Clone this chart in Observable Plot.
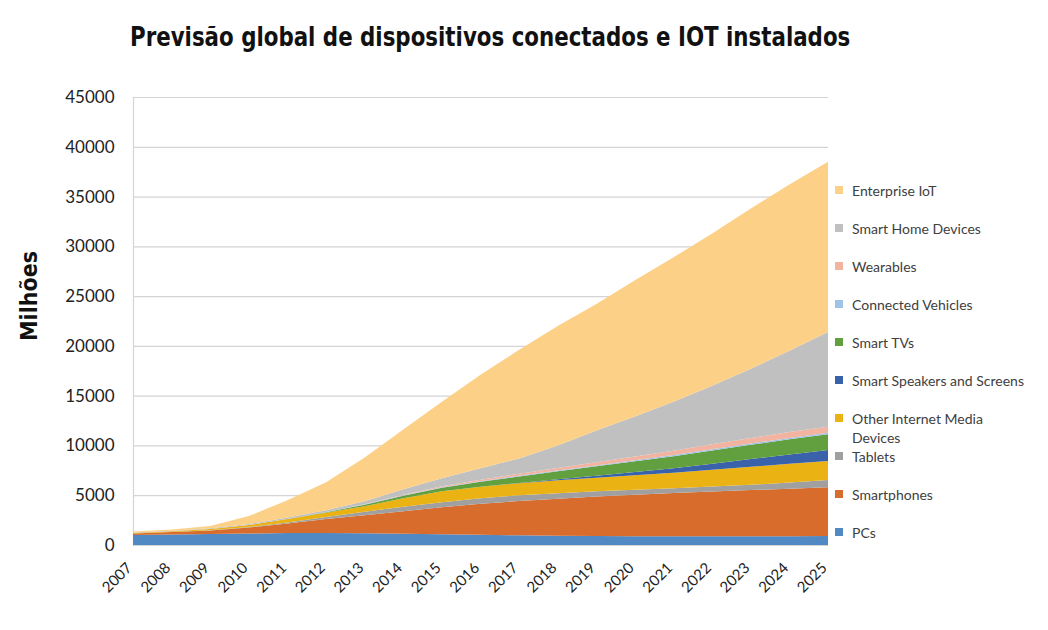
<!DOCTYPE html>
<html>
<head>
<meta charset="utf-8">
<script src="https://cdn.jsdelivr.net/npm/d3@7"></script>
<script src="https://cdn.jsdelivr.net/npm/@observablehq/plot@0.6"></script>
<style>
  body { margin: 0; background: #fff; width: 1048px; height: 630px; position: relative; overflow: hidden; font-family: Lato, "Open Sans", sans-serif; }
  #title { position: absolute; left: 130px; top: 21px; font-family: "Liberation Sans Narrow", "DejaVu Sans Condensed", Roboto, sans-serif; font-weight: bold; font-size: 26px; line-height: 32px; color: #111; white-space: nowrap; transform: scaleX(0.913); transform-origin: 0 0; z-index: 2; }
  #ylabel { position: absolute; left: 29px; top: 296px; transform: translate(-50%, -50%) rotate(-90deg); font-family: "Liberation Sans Narrow", "DejaVu Sans Condensed", Roboto, sans-serif; font-weight: bold; font-size: 23px; color: #111; white-space: nowrap; z-index: 2; }
  #chart { position: absolute; left: 0; top: 70px; z-index: 1; }
  #legend { position: absolute; left: 835px; top: 0; z-index: 2; }
  .item { position: absolute; left: 0; width: 210px; font-size: 14px; line-height: 19px; color: #404040; }
  .sw { position: absolute; left: 0; top: 5px; width: 8px; height: 8px; }
  .lbl { position: absolute; left: 17px; top: 0; white-space: pre; }
</style>
</head>
<body>
<div id="title">Previsão global de dispositivos conectados e IOT instalados</div>
<div id="chart"></div>
<div id="ylabel">Milhões</div>
<div id="legend"></div>
<script>
const years = [2007, 2008, 2009, 2010, 2011, 2012, 2013, 2014, 2015, 2016, 2017, 2018, 2019, 2020, 2021, 2022, 2023, 2024, 2025];
const yTicks = [0, 5000, 10000, 15000, 20000, 25000, 30000, 35000, 40000, 45000];

// series (millions), bottom to top
const pcs         = [1000, 1050, 1100, 1150, 1200, 1200, 1180, 1130, 1080, 1020, 970, 930, 900, 880, 880, 880, 880, 880, 900];
const smartphones = [150, 250, 350, 600, 950, 1400, 1820, 2270, 2720, 3130, 3450, 3720, 3980, 4180, 4340, 4490, 4640, 4770, 4890];
const tablets     = [0, 0, 20, 50, 100, 200, 350, 450, 500, 550, 580, 550, 520, 490, 480, 500, 530, 620, 730];
const otherMedia  = [50, 80, 130, 200, 350, 450, 550, 850, 1100, 1150, 1200, 1300, 1350, 1450, 1550, 1680, 1800, 1880, 1930];
const speakers    = [0, 0, 0, 0, 0, 0, 0, 0, 0, 0, 30, 100, 200, 330, 470, 620, 780, 950, 1100];
const smartTVs    = [0, 0, 0, 0, 0, 50, 150, 250, 350, 500, 650, 800, 950, 1080, 1200, 1330, 1430, 1520, 1570];
const vehicles    = [0, 0, 0, 5, 10, 20, 30, 40, 50, 60, 70, 80, 90, 100, 110, 120, 130, 140, 150];
const wearables   = [0, 0, 0, 0, 0, 0, 20, 50, 100, 150, 200, 260, 320, 380, 440, 500, 550, 590, 620];
const smartHome   = [50, 50, 80, 100, 140, 180, 300, 560, 800, 1140, 1550, 2260, 3190, 4010, 4930, 5880, 6960, 8150, 9510];
const enterprise  = [100, 120, 220, 800, 1750, 2800, 4400, 6000, 7700, 9400, 10900, 12000, 12700, 13700, 14500, 15300, 16100, 16700, 17100];

const seriesNames = ["PCs", "Smartphones", "Tablets", "Other Internet Media Devices", "Smart Speakers and Screens", "Smart TVs", "Connected Vehicles", "Wearables", "Smart Home Devices", "Enterprise IoT"];
const legendLabels = ["PCs", "Smartphones", "Tablets", "Other Internet Media\nDevices", "Smart Speakers and Screens", "Smart TVs", "Connected Vehicles", "Wearables", "Smart Home Devices", "Enterprise IoT"];
const seriesColors = ["#5089c4", "#d86c2c", "#a0a0a0", "#ebb213", "#3a62ab", "#62a03f", "#9dc3e6", "#f2b3a0", "#c0c0c0", "#fdd087"];
const seriesValues = [pcs, smartphones, tablets, otherMedia, speakers, smartTVs, vehicles, wearables, smartHome, enterprise];

const data = [];
seriesNames.forEach((name, i) => {
  years.forEach((yr, j) => data.push({ year: yr, series: name, value: seriesValues[i][j] }));
});

const chart = Plot.plot({
  width: 1048,
  height: 560,
  marginTop: 27,
  marginBottom: 85,
  marginLeft: 133,
  marginRight: 220,
  x: { domain: [2007, 2025] },
  y: { domain: [0, 45000] },
  color: { domain: seriesNames, range: seriesColors },
  style: { fontFamily: "Lato, 'Open Sans', sans-serif", color: "#222", background: "transparent" },
  marks: [
    Plot.gridY(yTicks, { stroke: "#d4d4d4", strokeOpacity: 1, strokeWidth: 1.2 }),
    Plot.ruleX([2007], { stroke: "#d4d4d4", strokeWidth: 1.2 }),
    Plot.areaY(data, { x: "year", y: "value", fill: "series", order: seriesNames }),
    Plot.axisY(yTicks, { tickSize: 0, tickPadding: 19, fontSize: 17, tickFormat: d => String(d), label: null, fill: "#222" }),
    Plot.axisX(years, { tickSize: 0, tickPadding: 20, dx: -4, tickRotate: -45, fontSize: 15, tickFormat: d => String(d), label: null, fill: "#222" })
  ]
});
document.getElementById("chart").appendChild(chart);

const legend = document.getElementById("legend");
const legendTop = 181;
const legendStep = 38;
for (let k = 0; k < seriesNames.length; k++) {
  const i = seriesNames.length - 1 - k;
  const item = document.createElement("div");
  item.className = "item";
  item.style.top = (legendTop + k * legendStep) + "px";
  const sw = document.createElement("div");
  sw.className = "sw";
  sw.style.background = seriesColors[i];
  const lbl = document.createElement("div");
  lbl.className = "lbl";
  lbl.textContent = legendLabels[i];
  item.appendChild(sw);
  item.appendChild(lbl);
  legend.appendChild(item);
}
</script>
</body>
</html>
